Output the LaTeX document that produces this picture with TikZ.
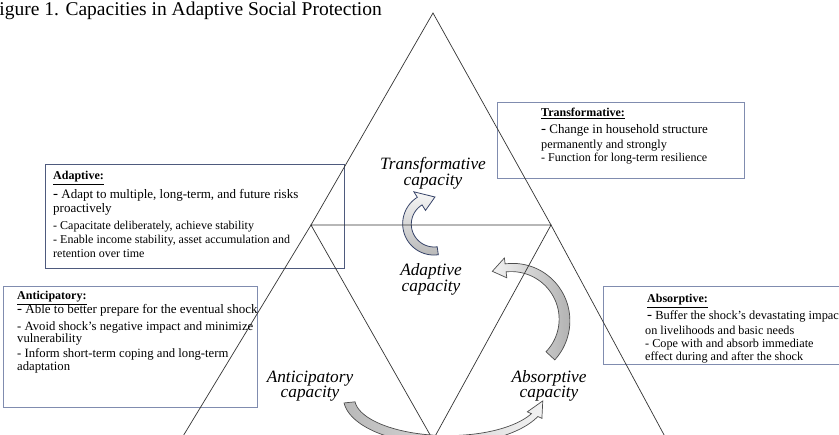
\documentclass[tikz,border=0pt]{standalone}
\usepackage{fontspec}
\setmainfont{Liberation Serif}
\definecolor{boxdark}{RGB}{78,90,125}
\definecolor{boxlight}{RGB}{128,140,175}
\definecolor{arrline}{RGB}{55,68,105}
\newcommand{\bdash}{{\fontsize{15}{15}\selectfont -}}
\newcommand{\wA}{8}
\newcommand{\wB}{8}
\newcommand{\hw}{10}
% #1 style, #2 cx, #3 cy, #4 rx, #5 ry, #6 tail angle, #7 head-base angle, #8 tip angle
\newcommand{\blockarc}[8]{%
  \draw[#1] plot[domain=#6:#7, samples=60]
     ({#2+(#4+0.5*(\wA+(\wB-\wA)*(\x-(#6))/((#7)-(#6))))*cos(\x)},
      {#3+(#5+0.5*(\wA+(\wB-\wA)*(\x-(#6))/((#7)-(#6))))*sin(\x)})
   -- ({#2+(#4+\hw)*cos(#7)}, {#3+(#5+\hw)*sin(#7)})
   -- ({#2+#4*cos(#8)}, {#3+#5*sin(#8)})
   -- ({#2+(#4-\hw)*cos(#7)}, {#3+(#5-\hw)*sin(#7)})
   -- plot[domain=#7:#6, samples=60]
     ({#2+(#4-0.5*(\wA+(\wB-\wA)*(\x-(#6))/((#7)-(#6))))*cos(\x)},
      {#3+(#5-0.5*(\wA+(\wB-\wA)*(\x-(#6))/((#7)-(#6))))*sin(\x)})
   -- cycle;}
\begin{document}
\begin{tikzpicture}[x=1pt,y=-1pt,
  tri/.style={draw=black!80, line width=0.7pt},
  boxd/.style={draw=boxdark, line width=0.9pt},
  boxl/.style={draw=boxlight, line width=0.9pt},
  txt/.style={anchor=base west, inner sep=0pt, font=\fontsize{12}{14}\selectfont},
  txtbig/.style={anchor=base west, inner sep=0pt, font=\fontsize{13}{14}\selectfont},
  txtb/.style={anchor=base west, inner sep=0pt, font=\fontsize{12.7}{14}\selectfont},
  txtc/.style={anchor=base west, inner sep=0pt, font=\fontsize{12.2}{14}\selectfont},
  caplabel/.style={anchor=base, inner sep=0pt, font=\fontsize{17.3}{18}\selectfont\itshape},
  arrA/.style={draw=arrline, line width=0.8pt, top color=gray!6, bottom color=gray!55},
  arrB/.style={draw=black!70, line width=0.7pt, left color=gray!10, right color=gray!60},
  arrC/.style={draw=black!70, line width=0.7pt, left color=gray!55, right color=gray!10}]
\useasboundingbox (0,0) rectangle (839,435);
\fill[white] (0,0) rectangle (839,435);
\clip (0,0) rectangle (839,435);

% title
\node[anchor=base east, inner sep=0pt, font=\fontsize{19.5}{20}\selectfont] (title) at (382,16)
  {Figure 1. Capacities in Adaptive Social Protection};

% boxes
\draw[boxd] (45,164) rectangle (344,268);
\draw[boxl] (3,286) rectangle (257,407);
\draw[boxl] (497,102) rectangle (744,178);
\draw[boxl] (603,286) rectangle (850,364);

% block arrows
\renewcommand{\wA}{8}\renewcommand{\wB}{9}\renewcommand{\hw}{11}
\blockarc{arrA}{434}{224}{27}{27}{82}{238}{272}
\renewcommand{\wA}{12}\renewcommand{\wB}{8}\renewcommand{\hw}{10}
\blockarc{arrB}{512}{320}{52.5}{52.5}{43}{-97}{-112}
\renewcommand{\wA}{11}\renewcommand{\wB}{7}\renewcommand{\hw}{8}
\blockarc{arrC}{446}{398}{97}{42}{174}{24}{4}

% triangles
\coordinate (A) at (433,13);
\coordinate (L) at (311,225);
\coordinate (R) at (551,225);
\coordinate (M) at (433,440);
\coordinate (BL) at (180.7,440);
\coordinate (BR) at (666.8,440);
\draw[tri] (BL) -- (L) -- (A) -- (R) -- (BR);
\draw[tri] (L) -- (R) -- (M) -- cycle;

% capacity labels
\node[caplabel] (tc1) at (433,169.5) {Transformative};
\node[caplabel] (tc2) at (433,185.5) {capacity};
\node[caplabel] (ac1) at (431,276) {Adaptive};
\node[caplabel] (ac2) at (431,292) {capacity};
\node[caplabel] (nc1) at (310,382.5) {Anticipatory};
\node[caplabel] (nc2) at (310,398) {capacity};
\node[caplabel] (bc1) at (549,382.5) {Absorptive};
\node[caplabel] (bc2) at (549,398) {capacity};

% Adaptive box text
\node[txt] (ad0) at (53,180) {\underline{\textbf{Adaptive:}}};
\node[txtbig] (ad1) at (53,198.5) {\bdash{} Adapt to multiple, long-term, and future risks};
\node[txtbig] (ad2) at (53,213) {proactively};
\node[txt] (ad3) at (53,230) {- Capacitate deliberately, achieve stability};
\node[txt] (ad4) at (53,244) {- Enable income stability, asset accumulation and};
\node[txt] (ad5) at (53,257.5) {retention over time};

% Anticipatory box text
\node[txt] (an0) at (17,300) {\underline{\textbf{Anticipatory:}}};
\node[txtbig] (an1) at (17,314) {\bdash{} Able to better prepare for the eventual shock};
\node[txtb] (an2) at (17,330.5) {- Avoid shock’s negative impact and minimize};
\node[txtb] (an3) at (17,343) {vulnerability};
\node[txtb] (an4) at (17,357.5) {- Inform short-term coping and long-term};
\node[txtb] (an5) at (17,370.5) {adaptation};

% Transformative box text
\node[txt] (tr0) at (541,117) {\underline{\textbf{Transformative:}}};
\node[txtbig] (tr1) at (541,134) {\bdash{} Change in household structure};
\node[txt, font=\fontsize{12.3}{14}\selectfont] (tr2) at (541,149) {permanently and strongly};
\node[txt] (tr3) at (541,162) {- Function for long-term resilience};

% Absorptive box text
\node[txt] (ab0) at (647,303) {\underline{\textbf{Absorptive:}}};
\node[txt, font=\fontsize{12.4}{14}\selectfont] (ab1) at (647,319.5) {\bdash{} Buffer the shock’s devastating impact};
\node[txtc] (ab2) at (645,335) {on livelihoods and basic needs};
\node[txtc] (ab3) at (645,347.5) {- Cope with and absorb immediate};
\node[txtc] (ab4) at (645,360.5) {effect during and after the shock};
\end{tikzpicture}
\end{document}
